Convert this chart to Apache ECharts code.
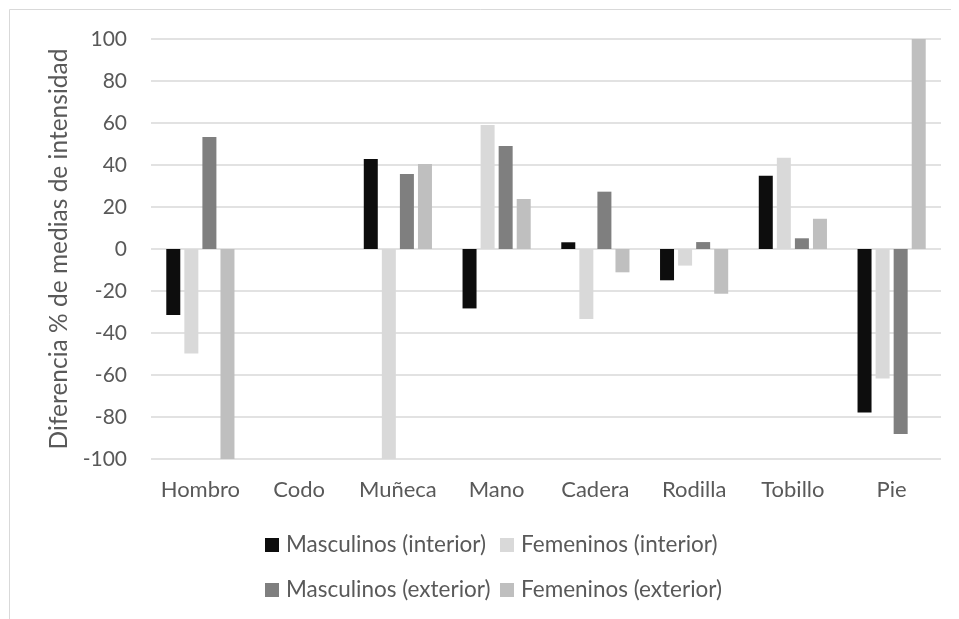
<!DOCTYPE html>
<html>
<head>
<meta charset="utf-8">
<script src="https://cdn.jsdelivr.net/npm/echarts@6/dist/echarts.min.js"></script>
<style>html,body{margin:0;padding:0;background:#fff;}#c{width:959px;height:619px;}</style>
</head>
<body>
<div id="c"></div>
<script>
var categories = ['Hombro', 'Codo', 'Muñeca', 'Mano', 'Cadera', 'Rodilla', 'Tobillo', 'Pie'];
var masculinosInterior = [-31.4, 0, 42.9, -28.3, 3.2, -14.9, 34.9, -77.9];
var femeninosInterior  = [-49.8, 0, -100, 59.0, -33.3, -7.9, 43.5, -61.7];
var masculinosExterior = [53.3, 0, 35.7, 49.0, 27.3, 3.3, 5.1, -88.1];
var femeninosExterior  = [-100, 0, 40.5, 23.8, -11.1, -21.3, 14.4, 100];
var seriesNames = ['Masculinos (interior)', 'Femeninos (interior)', 'Masculinos (exterior)', 'Femeninos (exterior)'];
var seriesColors = ['#0d0d0d', '#d9d9d9', '#7f7f7f', '#bfbfbf'];
var yTicks = {min: -100, max: 100, interval: 20};

var FONT = 'Lato';
var TXT = '#595959';
var seriesData = [masculinosInterior, femeninosInterior, masculinosExterior, femeninosExterior];

function legendRow(names, top) {
  return {
    data: names,
    left: 265, top: top,
    padding: 0,
    itemWidth: 14, itemHeight: 14, itemGap: 7,
    icon: 'rect',
    textStyle: {fontFamily: FONT, fontSize: 22.5, lineHeight: 26, color: TXT, padding: [0, 0, 0, 2], width: 207}
  };
}

var chart = echarts.init(document.getElementById('c'), null, {renderer: 'canvas'});
chart.setOption({
  animation: false,
  backgroundColor: '#ffffff',
  textStyle: {fontFamily: FONT, color: TXT},
  graphic: [
    {type: 'line', shape: {x1: 9.5, y1: 9.5, x2: 951, y2: 9.5}, style: {stroke: '#d9d9d9', lineWidth: 1}},
    {type: 'line', shape: {x1: 9.5, y1: 9.5, x2: 9.5, y2: 619}, style: {stroke: '#d9d9d9', lineWidth: 1}}
  ],
  legend: [
    legendRow([seriesNames[0], seriesNames[1]], 532),
    legendRow([seriesNames[2], seriesNames[3]], 577)
  ],
  grid: {left: 151, right: 18, top: 39, bottom: 160, containLabel: false},
  xAxis: {
    type: 'category',
    data: categories,
    axisLine: {show: false},
    axisTick: {show: false},
    axisLabel: {fontFamily: FONT, fontSize: 22, color: TXT, margin: 20, interval: 0, hideOverlap: false}
  },
  yAxis: {
    type: 'value',
    min: yTicks.min, max: yTicks.max, interval: yTicks.interval,
    name: 'Diferencia % de medias de intensidad',
    nameLocation: 'middle',
    nameGap: 72,
    nameTextStyle: {fontFamily: FONT, fontSize: 24.5, color: TXT},
    axisLine: {show: false},
    axisTick: {show: false},
    axisLabel: {fontFamily: FONT, fontSize: 21, color: TXT, margin: 24},
    splitLine: {show: true, lineStyle: {color: '#d9d9d9', width: 1.5}}
  },
  series: seriesNames.map(function (n, i) {
    return {
      name: n,
      type: 'bar',
      data: seriesData[i],
      barWidth: 14,
      barGap: '29%',
      itemStyle: {color: seriesColors[i]}
    };
  })
});
</script>
</body>
</html>
